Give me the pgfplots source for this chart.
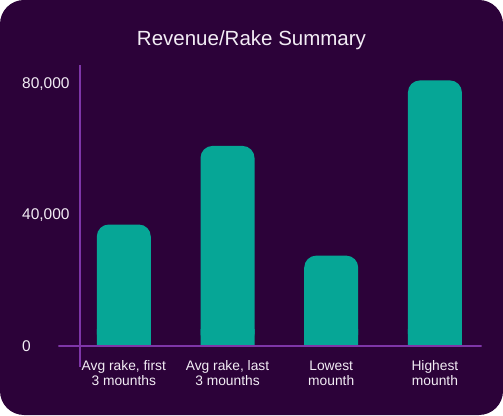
\documentclass[border=0pt]{standalone}
\usepackage{pgfplots}
\usepackage{pgfplotstable}
\pgfplotsset{compat=1.18}
\usepackage{fontspec}
\setmainfont{Liberation Sans}

\definecolor{panelbg}{HTML}{2C0239}
\definecolor{barteal}{HTML}{06A696}
\definecolor{axispurple}{HTML}{7E36A8}
\definecolor{labeltext}{HTML}{F2ECF4}

% Revenue / rake values per category
\pgfplotstableread{
x y
0 37000
1 61000
2 27500
3 81000
}\rakedata

\begin{document}
\begin{tikzpicture}[x=1pt,y=1pt]
  \useasboundingbox (0,0) rectangle (503,415);
  \fill[panelbg, rounded corners=24pt] (0,0) rectangle (503,415);
  \node[anchor=base, text=labeltext, inner sep=0pt,
        font=\fontsize{20.5}{24}\selectfont] at (251.5,369) {Revenue/Rake Summary};

  \begin{axis}[
    at={(58.3pt,48.3pt)}, anchor=south west,
    scale only axis, width=423.4pt, height=301.7pt,
    xmin=-0.6316, xmax=3.451,
    ymin=-6412, ymax=85710,
    axis line style={draw=none},
    tick style={draw=none},
    major tick length=0pt,
    ybar, bar width=54pt,
    xtick={0,1,2,3},
    xticklabels={{Avg rake, first\\3 mounths},{Avg rake, last\\3 mounths},{Lowest\\mounth},{Highest\\mounth}},
    xticklabel style={text=labeltext, align=center, anchor=north, inner sep=0pt,
      yshift=6pt, font=\fontsize{13.8}{14.7}\selectfont},
    ytick={0,40000,80000},
    scaled y ticks=false,
    yticklabel style={text=labeltext, anchor=west, inner sep=0pt, xshift=-36.3pt,
      font=\fontsize{15.5}{18}\selectfont,
      /pgf/number format/.cd, 1000 sep={,}, assume math mode=true},
  ]
    % bars with rounded tops
    \addplot[fill=barteal, draw=none, bar shift=0pt, rounded corners=12pt] table[x=x,y=y] {\rakedata};
    % same bars squared off near the baseline
    \begin{scope}
      \clip (axis cs:-0.6316,0) rectangle (axis cs:3.451,5000);
      \addplot[fill=barteal, draw=none, bar shift=0pt] table[x=x,y=y] {\rakedata};
    \end{scope}
    % axis lines
    \draw[axispurple, line width=2pt] (axis cs:-0.6316,0) -- (axis cs:3.451,0);
    \draw[axispurple, line width=2pt] (axis cs:-0.4224,-6412) -- (axis cs:-0.4224,85710);
  \end{axis}
\end{tikzpicture}
\end{document}
